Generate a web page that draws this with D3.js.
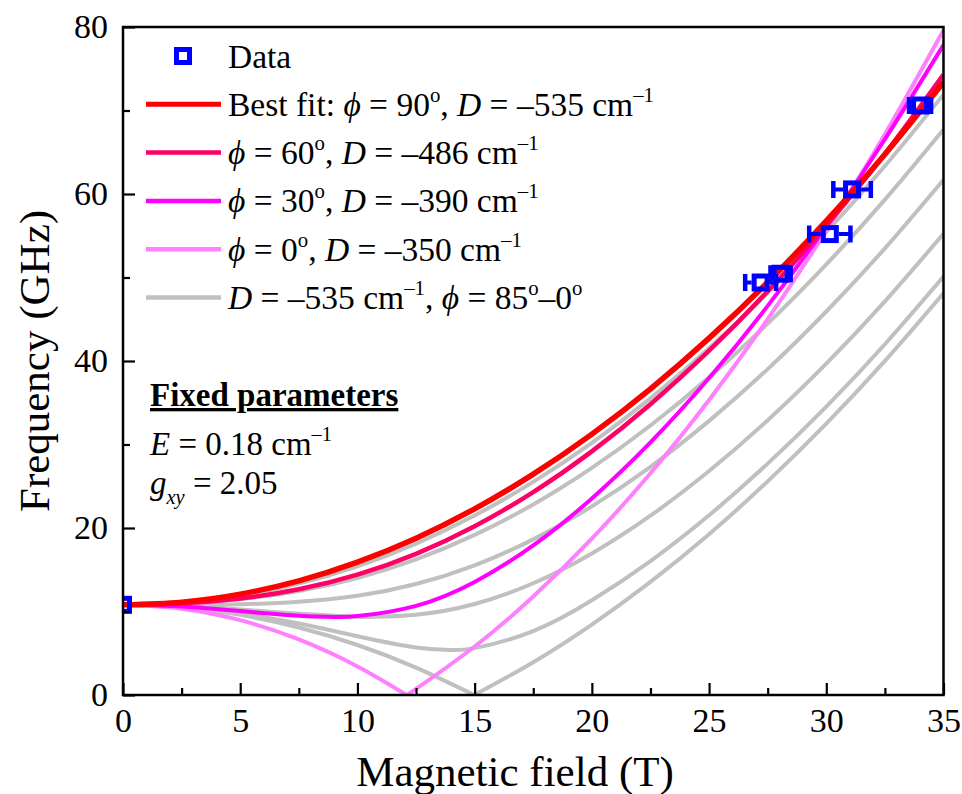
<!DOCTYPE html>
<html>
<head>
<meta charset="utf-8">
<script src="https://cdn.jsdelivr.net/npm/d3@7"></script>
<style>
  body { margin: 0; background: #fff; }
  text { font-family: "Liberation Serif", "Times New Roman", serif; fill: #000; }
</style>
</head>
<body>
<svg id="chart" width="962" height="794"></svg>
<script>
// field grid (T) shared by most curves
const FIELD = [0, 2.5, 5, 7.5, 10, 12.5, 15, 17.5, 20, 22.5, 25, 27.5, 30, 32.5, 35]

// coloured curves, frequency in GHz
const bestFit = [10.80, 11.12, 12.08, 13.67, 15.91, 18.78, 22.30, 26.45, 31.24, 36.67, 42.74, 49.44, 56.79, 64.77, 73.40]
const phi60 = [10.80, 10.98, 11.56, 12.66, 14.41, 16.91, 20.21, 24.30, 29.18, 34.83, 41.23, 48.36, 56.22, 64.81, 74.30]
const phi30Field = [0, 2.5, 5, 7.5, 8.94, 10, 12.5, 15, 17.5, 20, 22.5, 25, 27.5, 30, 32.5, 35]
const phi30 = [10.80, 10.60, 10.06, 9.49, 9.35, 9.45, 10.68, 13.54, 17.91, 23.54, 30.25, 37.96, 46.60, 56.14, 66.56, 77.85]
const phi0FieldA = [0, 2.5, 5, 7.5, 10, 12.1]
const phi0A = [10.80, 10.34, 8.96, 6.65, 3.42, 0]
const phi0FieldB = [12.1, 12.5, 15, 17.5, 20, 22.5, 25, 27.5, 30, 32.5, 35]
const phi0B = [0, 0.73, 5.81, 11.80, 18.72, 26.56, 35.33, 45.01, 55.62, 67.15, 79.61]

// grey family, D = -535 cm-1
const grey85 = [10.80, 11.11, 12.06, 13.64, 15.86, 18.71, 22.21, 26.35, 31.13, 36.54, 42.60, 49.30, 56.64, 64.62, 73.23]
const grey75 = [10.80, 11.08, 11.92, 13.36, 15.42, 18.13, 21.50, 25.52, 30.20, 35.53, 41.52, 48.15, 55.43, 63.35, 71.91]
const grey60 = [10.80, 10.96, 11.48, 12.46, 14.01, 16.23, 19.17, 22.82, 27.20, 32.28, 38.04, 44.47, 51.57, 59.32, 67.73]
const grey45 = [10.80, 10.80, 10.87, 11.16, 11.88, 13.29, 15.53, 18.64, 22.59, 27.33, 32.83, 39.03, 45.93, 53.49, 61.71]
const grey30Field = [0, 2.5, 5, 7.5, 10, 10.51, 12.5, 15, 17.5, 20, 22.5, 25, 27.5, 30, 32.5, 35]
const grey30 = [10.80, 10.65, 10.24, 9.72, 9.37, 9.35, 9.62, 10.90, 13.38, 16.95, 21.47, 26.82, 32.90, 39.68, 47.14, 55.24]
const grey15Field = [0, 2.5, 5, 7.5, 10, 12.5, 13.92, 15, 17.5, 20, 22.5, 25, 27.5, 30, 32.5, 35]
const grey15 = [10.80, 10.54, 9.77, 8.56, 7.04, 5.69, 5.40, 5.61, 7.66, 11.34, 16.04, 21.52, 27.71, 34.54, 42.01, 50.11]
const grey0FieldA = [0, 2.5, 5, 7.5, 10, 12.5, 14.98]
const grey0A = [10.80, 10.50, 9.60, 8.09, 5.99, 3.28, 0]
const grey0FieldB = [14.98, 17.5, 20, 22.5, 25, 27.5, 30, 32.5, 35]
const grey0B = [0, 3.93, 8.44, 13.55, 19.26, 25.58, 32.49, 40.01, 48.12]

// measured points
const dataField = [0, 27.2, 28.05, 30.15, 31.1, 34.0]
const dataFreq = [10.8, 49.4, 50.45, 55.2, 60.55, 70.6]
const dataErr = [0.15, 0.66, 0.43, 0.88, 0.8, 0.47]

const xMajor = [0, 5, 10, 15, 20, 25, 30, 35]
const xMinor = [2.5, 7.5, 12.5, 17.5, 22.5, 27.5, 32.5]
const yMajor = [0, 20, 40, 60, 80]
const yMinor = [10, 30, 50, 70]

const RED = '#ff0000', CRIMSON = '#ff0066', MAGENTA = '#ff00ff', PINK = '#ff80ff', GREY = '#c0c0c0', BLUE = '#0000ff'

const svg = d3.select('#chart')
const x = d3.scaleLinear().domain([0, 35]).range([123, 943.5])
const y = d3.scaleLinear().domain([0, 80]).range([695, 27])

svg.append('defs').append('clipPath').attr('id', 'plot')
  .append('rect')
  .attr('x', x(0)).attr('y', y(80))
  .attr('width', x(35) - x(0)).attr('height', y(0) - y(80))

const pair = (bs, fs) => bs.map((b, i) => [b, fs[i]])
const curves = [
  [FIELD, grey85, GREY, 4], [FIELD, grey75, GREY, 4], [FIELD, grey60, GREY, 4],
  [FIELD, grey45, GREY, 4], [grey30Field, grey30, GREY, 4], [grey15Field, grey15, GREY, 4],
  [grey0FieldA, grey0A, GREY, 4], [grey0FieldB, grey0B, GREY, 4],
  [phi0FieldA, phi0A, PINK, 4], [phi0FieldB, phi0B, PINK, 4],
  [phi30Field, phi30, MAGENTA, 4], [FIELD, phi60, CRIMSON, 4.5], [FIELD, bestFit, RED, 5.5]
]

const line = d3.line().x(d => x(d[0])).y(d => y(d[1])).curve(d3.curveNatural)
const plot = svg.append('g').attr('clip-path', 'url(#plot)')
plot.selectAll('.curve')
  .data(curves)
  .enter()
  .append('path')
  .attr('class', 'curve')
  .attr('d', d => line(pair(d[0], d[1])))
  .attr('fill', 'none')
  .attr('stroke', d => d[2])
  .attr('stroke-width', d => d[3])

// data squares with horizontal error bars
const SQ = 13
function marker(g, cx, cy, half) {
  if (half > SQ / 2 + 2.5) {
    [-1, 1].forEach(s => {
      g.append('line')
        .attr('x1', cx + s * (SQ / 2 + 2.5)).attr('x2', cx + s * half)
        .attr('y1', cy).attr('y2', cy)
        .attr('stroke', BLUE).attr('stroke-width', 4)
      g.append('line')
        .attr('x1', cx + s * half).attr('x2', cx + s * half)
        .attr('y1', cy - 8.5).attr('y2', cy + 8.5)
        .attr('stroke', BLUE).attr('stroke-width', 4.5)
    })
  }
  g.append('rect')
    .attr('x', cx - SQ / 2).attr('y', cy - SQ / 2)
    .attr('width', SQ).attr('height', SQ)
    .attr('fill', 'none').attr('stroke', BLUE).attr('stroke-width', 5)
}
dataField.forEach((b, i) => {
  const half = x(b + dataErr[i]) - x(b)
  marker(plot, x(b), y(dataFreq[i]), half)
})

// axes
svg.append('g').attr('transform', `translate(0,${y(0)})`)
  .call(d3.axisBottom(x).tickValues(xMajor).tickSize(-12).tickSizeOuter(0).tickPadding(13).tickFormat(d3.format('d')))
svg.append('g').attr('transform', `translate(0,${y(0)})`)
  .call(d3.axisBottom(x).tickValues(xMinor).tickSize(-7).tickSizeOuter(0).tickFormat(''))
svg.append('g').attr('transform', `translate(${x(0)},0)`)
  .call(d3.axisLeft(y).tickValues(yMajor).tickSize(-12).tickSizeOuter(0).tickPadding(15))
svg.append('g').attr('transform', `translate(${x(0)},0)`)
  .call(d3.axisLeft(y).tickValues(yMinor).tickSize(-7).tickSizeOuter(0).tickFormat(''))
svg.selectAll('.tick line').attr('stroke', '#000').attr('stroke-width', 2.2)
svg.selectAll('.domain').attr('stroke', 'none')
svg.selectAll('.tick text')
  .style('font-family', '"Liberation Serif", "Times New Roman", serif')
  .attr('font-size', 34).attr('fill', '#000')

svg.append('rect')
  .attr('x', x(0)).attr('y', y(80))
  .attr('width', x(35) - x(0)).attr('height', y(0) - y(80))
  .attr('fill', 'none').attr('stroke', '#000').attr('stroke-width', 2.5)

svg.append('text')
  .attr('x', 515).attr('y', 786)
  .attr('text-anchor', 'middle').attr('font-size', 43)
  .text('Magnetic field (T)')
svg.append('text')
  .attr('transform', 'translate(49,361) rotate(-90)')
  .attr('text-anchor', 'middle').attr('font-size', 43)
  .text('Frequency (GHz)')

// rich text: [text, style] where style is i / sup / sub / subi
function rich(sel, parts, size) {
  let shift = 0
  parts.forEach(([t, s]) => {
    const target = s === 'sup' ? -0.42 * size : (s === 'sub' || s === 'subi') ? 0.3 * size : 0
    const small = s === 'sup' || s === 'sub' || s === 'subi'
    const ts = sel.append('tspan')
      .attr('dy', target - shift)
      .attr('font-size', small ? size * 0.62 : size)
      .text(t)
    if (s === 'i' || s === 'subi') ts.attr('font-style', 'italic')
    shift = target
  })
}

const legendLabels = [
  [['Data']],
  [['Best fit: '], ['ϕ', 'i'], [' = 90'], ['o', 'sup'], [', '], ['D', 'i'], [' = –535 cm'], ['–1', 'sup']],
  [['ϕ', 'i'], [' = 60'], ['o', 'sup'], [', '], ['D', 'i'], [' = –486 cm'], ['–1', 'sup']],
  [['ϕ', 'i'], [' = 30'], ['o', 'sup'], [', '], ['D', 'i'], [' = –390 cm'], ['–1', 'sup']],
  [['ϕ', 'i'], [' = 0'], ['o', 'sup'], [', '], ['D', 'i'], [' = –350 cm'], ['–1', 'sup']],
  [['D', 'i'], [' = –535 cm'], ['–1', 'sup'], [', '], ['ϕ', 'i'], [' = 85'], ['o', 'sup'], ['–0'], ['o', 'sup']]
]
const legendColors = [null, RED, CRIMSON, MAGENTA, PINK, GREY]
const legend = svg.append('g')
legendLabels.forEach((parts, i) => {
  const cy = 56 + i * 48.3
  if (i === 0) {
    marker(legend, 183, cy, 0)
  } else {
    legend.append('line')
      .attr('x1', 146).attr('x2', 221).attr('y1', cy).attr('y2', cy)
      .attr('stroke', legendColors[i]).attr('stroke-width', i === 1 ? 5 : 4.5)
  }
  rich(legend.append('text').attr('x', 228).attr('y', cy + 11.5), parts, 33.5)
})

const note = svg.append('g')
note.append('text')
  .attr('x', 150).attr('y', 406)
  .attr('font-size', 33).attr('font-weight', 'bold')
  .attr('text-decoration', 'underline')
  .text('Fixed parameters')
rich(note.append('text').attr('x', 150).attr('y', 455),
  [['E', 'i'], [' = 0.18 cm'], ['–1', 'sup']], 33)
rich(note.append('text').attr('x', 150).attr('y', 494),
  [['g', 'i'], ['xy', 'subi'], [' = 2.05']], 33)
</script>
</body>
</html>
